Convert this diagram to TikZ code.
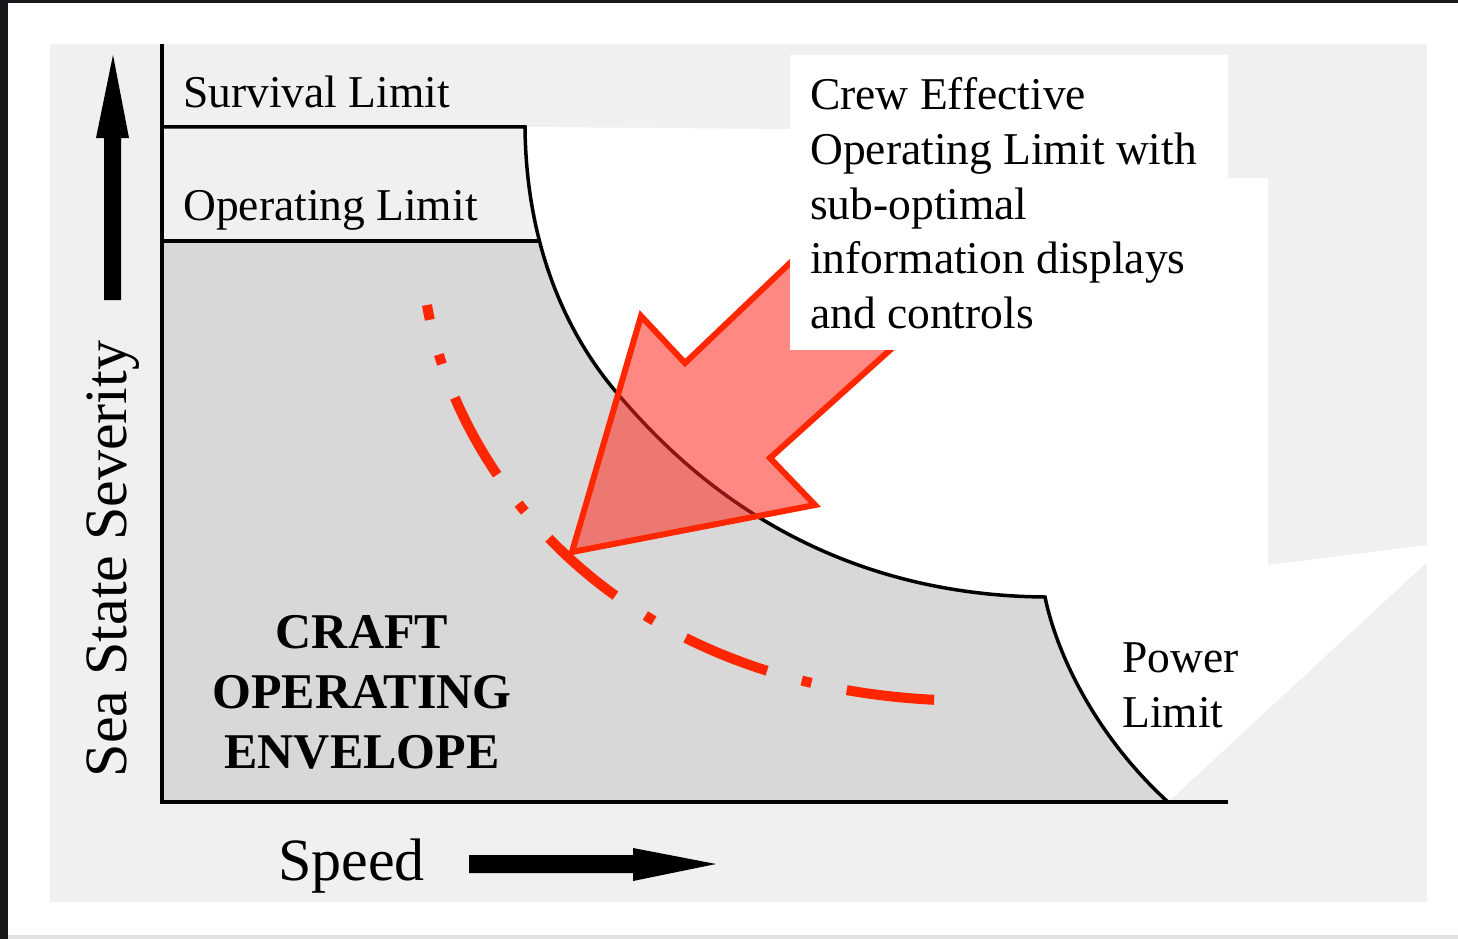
\documentclass[tikz,border=0pt]{standalone}
\usepackage{fontspec}
\setmainfont{Liberation Serif}
\definecolor{panel}{RGB}{240,240,240}
\definecolor{shadegray}{RGB}{216,216,216}
\definecolor{redline}{RGB}{255,38,0}
\definecolor{redfill}{RGB}{255,40,30}
\definecolor{framedark}{RGB}{22,24,28}
\definecolor{bottomline}{RGB}{225,225,225}
\begin{document}
\begin{tikzpicture}[x=1pt,y=-1pt,
  lbl/.style={font=\fontsize{45.5}{54}\selectfont, inner sep=0pt, anchor=base west},
  big/.style={font=\fontsize{60}{72}\selectfont, inner sep=0pt},
  env/.style={font=\fontsize{50}{60}\selectfont\bfseries, inner sep=0pt, anchor=base},
  axisline/.style={line width=4pt, black},
  limitline/.style={line width=3.5pt, black, line join=miter},
  dashcurve/.style={redline, line width=10pt, line cap=butt, dash pattern=on 88pt off 36pt on 10pt off 36pt, dash phase=73pt},
  bigarrow/.style={draw=redline, fill=redfill, fill opacity=0.55, line width=6pt, line join=miter},
  ]
\useasboundingbox (0,0) rectangle (1458,939);
% screenshot frame
\fill[white] (0,0) rectangle (1458,939);
\fill[framedark] (0,0) rectangle (8,939);
\fill[framedark] (0,0) rectangle (1458,3);
\fill[bottomline] (8,935) rectangle (1458,939);
% panel
\fill[panel] (50,44) rectangle (1427,902);
% white region above the limit curve
\fill[white] (790,129) -- (525,127) .. controls (526,240) and (563,330) .. (617,393)
  .. controls (669,454) and (800,595) .. (1045,597)
  .. controls (1058,660) and (1100,740) .. (1168,802) -- (1427,562) -- (1427,545) -- (1268,565) -- (1268,178) -- (1228,178) -- (1228,55) -- (790,55) -- cycle;
% shaded operating envelope
\begin{scope}
\clip (0,241) rectangle (1458,802);
\fill[shadegray] (162,127) -- (525,127) .. controls (526,240) and (563,330) .. (617,393)
  .. controls (669,454) and (800,595) .. (1045,597)
  .. controls (1058,660) and (1100,740) .. (1168,802) -- (162,802) -- cycle;
\end{scope}
% limit curves
\draw[limitline] (162,127) -- (525,127) .. controls (526,240) and (563,330) .. (617,393)
  .. controls (669,454) and (800,595) .. (1045,597)
  .. controls (1058,660) and (1100,740) .. (1168,802);
\draw[limitline] (162,241) -- (539,241);
% axes
\draw[axisline] (162,44) -- (162,804);
\draw[axisline] (160,802) -- (1228,802);
% axis arrows
\fill[black] (104,300) -- (104,138) -- (96,138) -- (113,55) -- (129,138) -- (121,138) -- (121,300) -- cycle;
\fill[black] (469,855) -- (633,855) -- (633,848) -- (716,864) -- (633,881) -- (633,873) -- (469,873) -- cycle;
% red dash-dot curve
\draw[dashcurve] (427,305) .. controls (455,470) and (610,685) .. (938,700);
% red block arrow
\filldraw[bigarrow] (572,552) -- (641,316) -- (685,363) -- (895,163) -- (1010,242) -- (770,458) -- (815,505) -- cycle;
% text box
\fill[white] (790,55) rectangle (1228,350);
% labels
\node[lbl] (surv) at (183,108) {Survival Limit};
\node[lbl] (oper) at (183,220) {Operating Limit};
\node[lbl] (crewa) at (810,110) {Crew Effective};
\node[lbl] (crewb) at (810,164) {Operating Limit with};
\node[lbl] (crewc) at (810,219) {sub-optimal};
\node[lbl] (crewd) at (810,273) {information displays};
\node[lbl] (crewe) at (810,328) {and controls};
\node[lbl] (powa) at (1122,672) {Power};
\node[lbl] (powb) at (1122,727) {Limit};
\node[env] (enva) at (362,648) {CRAFT};
\node[env] (envb) at (362,708) {OPERATING};
\node[env] (envc) at (362,768) {ENVELOPE};
\node[big, rotate=90, anchor=base] (sea) at (126,559) {Sea State Severity};
\node[big, anchor=base west] (speed) at (278,880) {Speed};
\end{tikzpicture}
\end{document}
